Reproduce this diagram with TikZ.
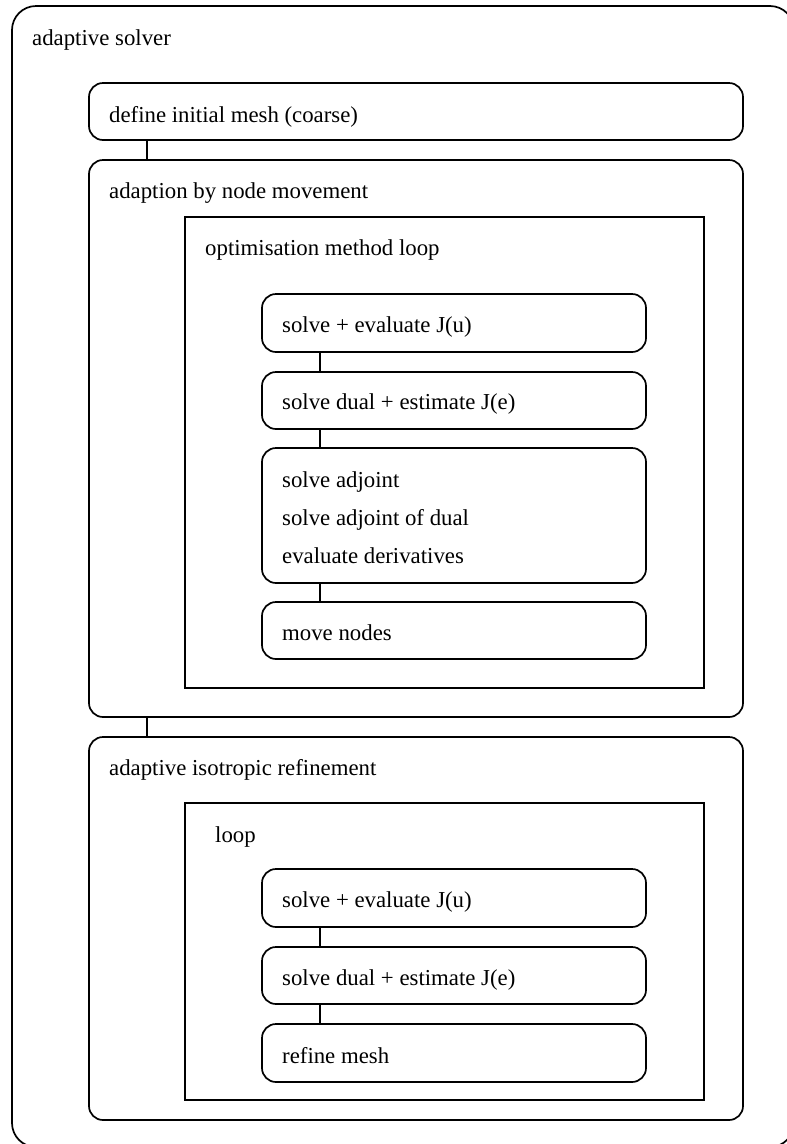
\documentclass[tikz,border=0pt]{standalone}
\usepackage{fontspec}
\setmainfont{Liberation Serif}
\usetikzlibrary{calc}
\begin{document}
\begin{tikzpicture}[x=1pt,y=-1pt,
  frame/.style={draw, line width=1.7pt, inner sep=0pt, outer sep=0pt, anchor=north west},
  rbox/.style={frame, rounded corners=14pt},
  sbox/.style={frame},
  lbl/.style={anchor=base west, inner sep=0pt, font=\fontsize{22.8}{27}\selectfont},
  link/.style={line width=1.7pt}]
\useasboundingbox (0,0) rectangle (787,1144);
\clip (0,0) rectangle (787,1144);
\fill[white] (0,0) rectangle (787,1144);

% outermost container
\node[rbox, rounded corners=24pt, minimum width=782pt, minimum height=1141pt] (solver) at (12,6) {};
\node[lbl] (tsolver) at (32,45) {adaptive solver};

% initial mesh
\node[rbox, minimum width=654pt, minimum height=57pt] (define) at (89,83) {};
\node[lbl] (tdefine) at (109,122) {define initial mesh (coarse)};

% node movement stage
\node[rbox, minimum width=654pt, minimum height=557pt] (adapt) at (89,160) {};
\node[lbl] (tadapt) at (109,198) {adaption by node movement};
\node[sbox, minimum width=519pt, minimum height=471pt] (optim) at (185,217) {};
\node[lbl] (toptim) at (205,255) {optimisation method loop};

\node[rbox, minimum width=384pt, minimum height=58pt] (s1) at (262,294) {};
\node[lbl] (ts1) at (282,332) {solve + evaluate J(u)};
\node[rbox, minimum width=384pt, minimum height=57pt] (s2) at (262,372) {};
\node[lbl] (ts2) at (282,409) {solve dual + estimate J(e)};
\node[rbox, minimum width=384pt, minimum height=135pt] (s3) at (262,448) {};
\node[lbl] (ts3a) at (282,487) {solve adjoint};
\node[lbl] (ts3b) at (282,525) {solve adjoint of dual};
\node[lbl] (ts3c) at (282,563) {evaluate derivatives};
\node[rbox, minimum width=384pt, minimum height=57pt] (s4) at (262,602) {};
\node[lbl] (ts4) at (282,640) {move nodes};

% isotropic refinement stage
\node[rbox, minimum width=654pt, minimum height=383pt] (refine) at (89,737) {};
\node[lbl] (trefine) at (109,775) {adaptive isotropic refinement};
\node[sbox, minimum width=519pt, minimum height=297pt] (loop) at (185,803) {};
\node[lbl] (tloop) at (215,842) {loop};

\node[rbox, minimum width=384pt, minimum height=58pt] (r1) at (262,869) {};
\node[lbl] (tr1) at (282,907) {solve + evaluate J(u)};
\node[rbox, minimum width=384pt, minimum height=57pt] (r2) at (262,947) {};
\node[lbl] (tr2) at (282,985) {solve dual + estimate J(e)};
\node[rbox, minimum width=384pt, minimum height=58pt] (r3) at (262,1024) {};
\node[lbl] (tr3) at (282,1063) {refine mesh};

% connectors
\draw[link] ($(define.south west)+(58,0)$) -- ($(adapt.north west)+(58,0)$);
\draw[link] ($(adapt.south west)+(58,0)$) -- ($(refine.north west)+(58,0)$);
\draw[link] ($(s1.south west)+(58,0)$) -- ($(s2.north west)+(58,0)$);
\draw[link] ($(s2.south west)+(58,0)$) -- ($(s3.north west)+(58,0)$);
\draw[link] ($(s3.south west)+(58,0)$) -- ($(s4.north west)+(58,0)$);
\draw[link] ($(r1.south west)+(58,0)$) -- ($(r2.north west)+(58,0)$);
\draw[link] ($(r2.south west)+(58,0)$) -- ($(r3.north west)+(58,0)$);
\end{tikzpicture}
\end{document}
